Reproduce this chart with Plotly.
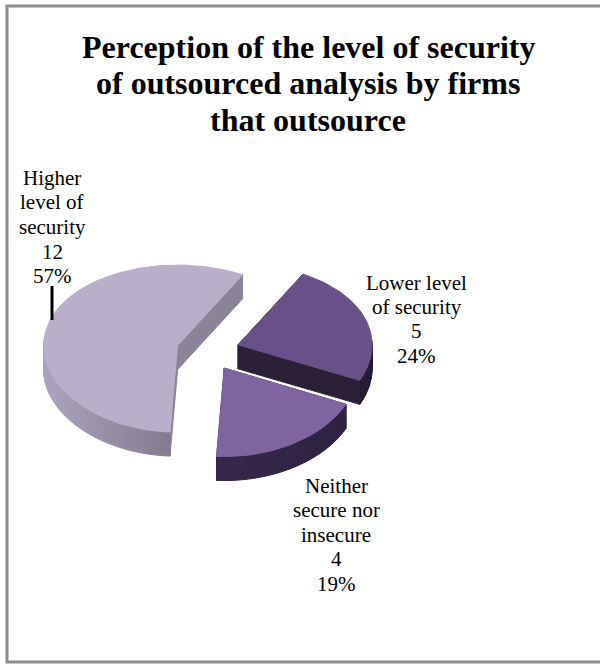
import numpy as np
import plotly.graph_objects as go

categories = ["Lower level of security", "Neither secure nor insecure", "Higher level of security"]
label_lines = [["Lower level", "of security"], ["Neither", "secure nor", "insecure"], ["Higher", "level of", "security"]]
values = [5, 4, 12]
title_lines = ["Perception of the level of security", "of outsourced analysis by firms", "that outsource"]

top_colors = ["#6A5088", "#8064A2", "#B9AFCB"]
wall_dark = [(36, 27, 52), (46, 34, 66), (84, 78, 96)]
wall_light = [(52, 38, 74), (60, 46, 84), (172, 164, 190)]
cut_colors = ["#2B2038", "#2B2038", "#8B8398"]

W, H = 600, 664
RX, RY, DEPTH = 134, 84, 24      # pixel sizes of the ellipse and the wall
CX, CY = 208, 351                # pie centre in pixels
START, EXPLODE = 61.0, 0.236
TILT = 0.06                      # slight perspective: the front looks larger

xr = [-CX / RX, (W - CX) / RX]
yr = [-(H - CY) / RX, CY / RX]   # one data unit equals RX pixels on both axes
ry, d = RY / RX, DEPTH / RX

fig = go.Figure()


def persp(y):
    y = np.asarray(y, dtype=float)
    return y * (1 - TILT * y)


def add_poly(x, y, color):
    fig.add_trace(go.Scatter(x=list(x), y=list(y), mode="lines", fill="toself", fillcolor=color,
                             line=dict(color=color, width=1), hoverinfo="skip",
                             showlegend=False))


def mix(a, b, t):
    return "rgb(%d,%d,%d)" % tuple(a[i] + (b[i] - a[i]) * t for i in range(3))


total = sum(values)
angle = START
slices = []
for i, v in enumerate(values):
    sweep = 360 * v / total
    slices.append((i, angle, angle - sweep))
    angle -= sweep

# back slices first
for i, a0, a1 in [slices[2], slices[0], slices[1]]:
    mid = np.radians((a0 + a1) / 2)
    ox, oy = EXPLODE * np.cos(mid), persp(EXPLODE * ry * np.sin(mid))
    th = np.radians(np.arange(a0, a1 - 1e-9, -2.0).tolist() + [a1])
    ex = ox + np.cos(th)
    ey = persp(EXPLODE * ry * np.sin(mid) + ry * np.sin(th))
    # cut faces
    for px, py in [(ex[0], ey[0]), (ex[-1], ey[-1])]:
        add_poly([ox, px, px, ox, ox], [oy, py, py - d, oy - d, oy], cut_colors[i])
    # outer wall, shaded from left to right
    for k in range(len(th) - 1):
        if np.sin(th[k]) > 0.05 and np.sin(th[k + 1]) > 0.05:
            continue
        t = (np.cos((th[k] + th[k + 1]) / 2) + 1) / 2
        add_poly([ex[k], ex[k + 1], ex[k + 1], ex[k], ex[k]],
                 [ey[k], ey[k + 1], ey[k + 1] - d, ey[k] - d, ey[k]],
                 mix(wall_light[i], wall_dark[i], t))
    # top face
    add_poly([ox, *ex, ox], [oy, *ey, oy], top_colors[i])

# text, placed line by line so the line pitch can follow the reference
label_font = dict(family="Liberation Serif", size=21, color="#000000")
label_pos = [(417, 289, 24.4), (336, 492, 24.5), (52, 184, 24.7)]


def add_text(px, baseline, text, font, shift):
    fig.add_annotation(x=px / W, y=1 - (baseline - shift) / H, xref="paper", yref="paper",
                       text=text, showarrow=False, xanchor="center", yanchor="middle",
                       font=font)


for i, (px, py, pitch) in enumerate(label_pos):
    lines = label_lines[i] + [str(values[i]), f"{round(100 * values[i] / total)}%"]
    for n, line in enumerate(lines):
        add_text(px, py + n * pitch, line, label_font, 6.5)

title_font = dict(family="Liberation Serif", size=32, color="#000000", weight="bold")
for n, line in enumerate(title_lines):
    add_text(308, 57 + n * 36.3, f"<b>{line}</b>", title_font, 10)

fig.update_layout(
    width=W, height=H, margin=dict(l=0, r=0, t=0, b=0),
    paper_bgcolor="#ffffff", plot_bgcolor="#ffffff", showlegend=False,
    xaxis=dict(range=xr, visible=False, fixedrange=True),
    yaxis=dict(range=yr, visible=False, fixedrange=True),
    shapes=[
        dict(type="line", xref="paper", yref="paper", x0=52 / W, x1=52 / W,
             y0=1 - 320 / H, y1=1 - 286 / H, line=dict(color="black", width=3)),
        dict(type="rect", xref="paper", yref="paper", x0=7 / W, x1=1.02, y0=1 - 662 / H, y1=1 - 6 / H,
             line=dict(color="#8c8c8c", width=3), fillcolor="rgba(0,0,0,0)"),
    ],
)
fig.write_html("out.html", config=dict(displayModeBar=False),
               post_script="document.body.style.margin='0';document.body.style.overflow='hidden';")
